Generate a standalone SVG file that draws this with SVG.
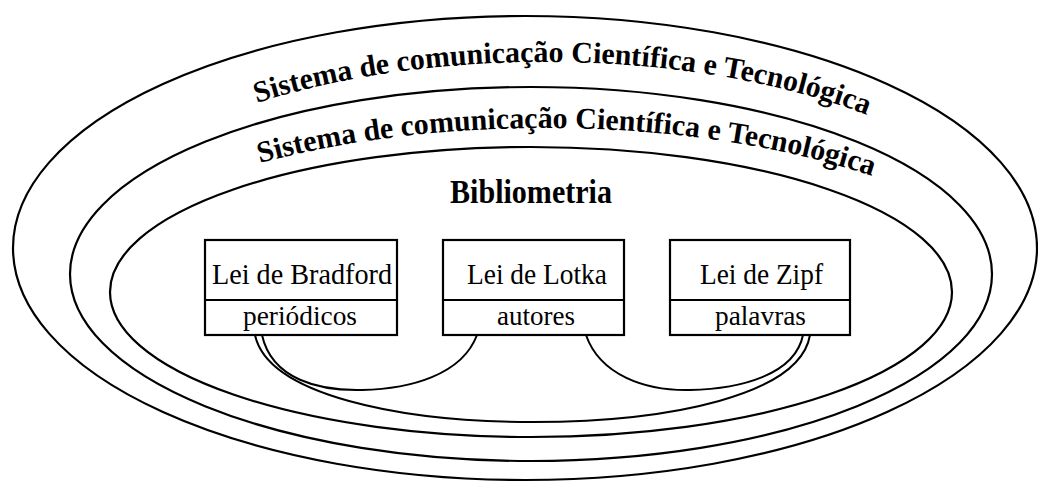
<svg xmlns="http://www.w3.org/2000/svg" width="1038" height="482" viewBox="0 0 1038 482">
<style>
.ring{fill:none;stroke:#000;stroke-width:2.2}
.box{fill:#fff;stroke:#000;stroke-width:2.2}
.conn{fill:none;stroke:#000;stroke-width:2}
.t{font-family:"Liberation Serif","Times New Roman",serif;fill:#000}
.b{font-weight:bold}
</style>
<defs>
<path id="arc1" d="M 257 102.9 A 475 200 0 0 1 1020 262"/>
<path id="arc2" d="M 260 163.1 A 506 202 0 0 1 1051 330"/>
</defs>
<rect width="1038" height="482" fill="#fff"/>
<g id="sistema-outer">
<ellipse class="ring" cx="525" cy="248" rx="512" ry="232"/>
<text class="t b" font-size="30"><textPath href="#arc1" textLength="620" lengthAdjust="spacingAndGlyphs">Sistema de comunicação Científica e Tecnológica</textPath></text>
</g>
<g id="sistema-inner">
<ellipse class="ring" cx="531" cy="274" rx="461" ry="187"/>
<text class="t b" font-size="30"><textPath href="#arc2" textLength="620" lengthAdjust="spacingAndGlyphs">Sistema de comunicação Científica e Tecnológica</textPath></text>
</g>
<g id="bibliometria">
<ellipse class="ring" cx="531" cy="292" rx="421" ry="145"/>
<text class="t b" x="450" y="203" font-size="34" textLength="162" lengthAdjust="spacingAndGlyphs">Bibliometria</text>
</g>
<g id="connectors">
<path class="conn" d="M 262 335 C 272 380, 320 391, 362 390 C 410 389, 462 375, 477 335"/>
<path class="conn" d="M 586 335 C 600 375, 645 391, 690 390 C 740 389, 795 375, 803 335"/>
<path class="conn" d="M 255 335 C 268 395, 400 422, 533 422 C 670 422, 800 395, 810 335"/>
</g>
<g id="bradford">
<rect class="box" x="205" y="240" width="192" height="95"/>
<line class="conn" x1="205" y1="300" x2="397" y2="300"/>
<text class="t" x="212" y="284" font-size="30" textLength="180" lengthAdjust="spacingAndGlyphs">Lei de Bradford</text>
<text class="t" x="243" y="325" font-size="28" textLength="114" lengthAdjust="spacingAndGlyphs">periódicos</text>
</g>
<g id="lotka">
<rect class="box" x="443" y="240" width="181" height="95"/>
<line class="conn" x1="443" y1="300" x2="624" y2="300"/>
<text class="t" x="467" y="284" font-size="30" textLength="140" lengthAdjust="spacingAndGlyphs">Lei de Lotka</text>
<text class="t" x="497" y="325" font-size="28" textLength="78" lengthAdjust="spacingAndGlyphs">autores</text>
</g>
<g id="zipf">
<rect class="box" x="670" y="240" width="180" height="95"/>
<line class="conn" x1="670" y1="300" x2="850" y2="300"/>
<text class="t" x="700" y="284" font-size="30" textLength="123" lengthAdjust="spacingAndGlyphs">Lei de Zipf</text>
<text class="t" x="715" y="325" font-size="28" textLength="91" lengthAdjust="spacingAndGlyphs">palavras</text>
</g>
</svg>
